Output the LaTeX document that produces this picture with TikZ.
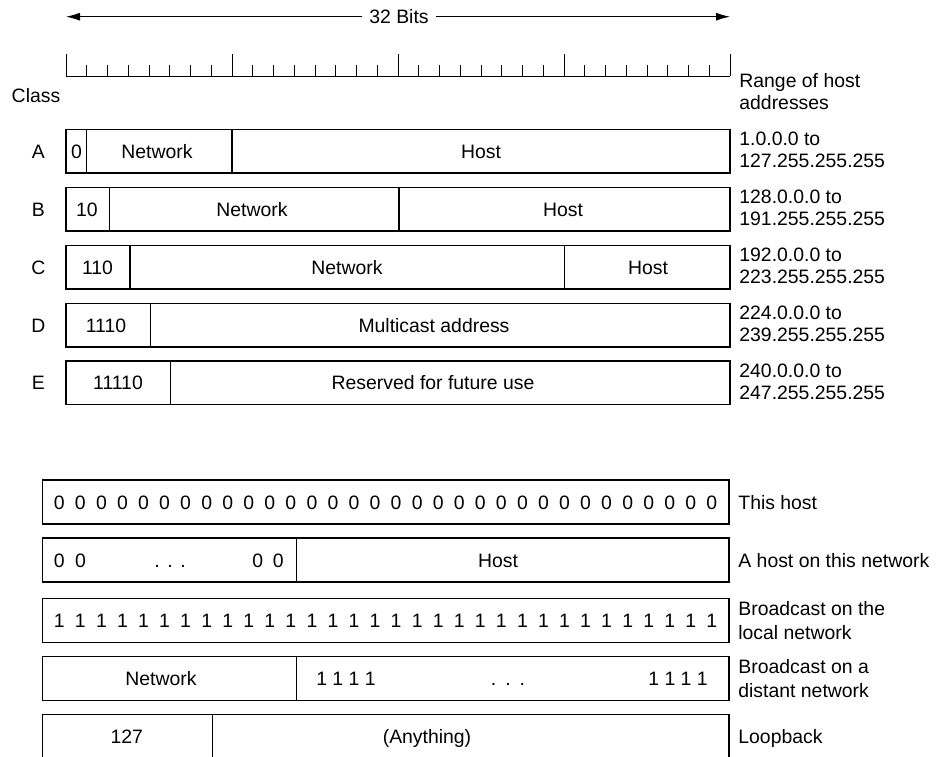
\documentclass[tikz,border=0pt]{standalone}
\usepackage{fontspec}
\setmainfont{Liberation Sans}
\usetikzlibrary{arrows.meta}

\tikzset{
  txt/.style={font=\fontsize{9.7}{11}\selectfont, inner sep=0pt, text height=7pt, text depth=0pt},
  hostrange/.style={font=\fontsize{9.7}{11}\selectfont, inner sep=0pt, anchor=north west, align=left},
  note/.style={font=\fontsize{9.7}{12}\selectfont, inner sep=0pt, anchor=north west, align=left},
  box/.style={line width=0.65pt},
  rule/.style={line width=0.5pt}
}

\begin{document}
\begin{tikzpicture}[x=0.5pt, y=-0.5pt]
  \useasboundingbox (0,0) rectangle (938,756);
  \clip (0,0) rectangle (938,756);
  % 32 bits arrow
  \coordinate (bitsL) at (66,16.7);
  \coordinate (bitsR) at (730,16.7);
  \node[txt, inner sep=3.3pt] (bits) at (399,16.7) {32 Bits};
  \draw[rule, -{Latex[length=7pt,width=4pt]}] (bits) -- (bitsL);
  \draw[rule, -{Latex[length=7pt,width=4pt]}] (bits) -- (bitsR);
  % bit ruler
  \draw[rule] (66,76) -- (730,76);
  \foreach \i in {0,...,32}{
    \pgfmathsetmacro{\tx}{66+20.75*\i}
    \pgfmathsetmacro{\ty}{mod(\i,8)==0 ? 54 : 65}
    \draw[rule] (\tx,76) -- (\tx,\ty);
  }
  \node[txt] (classhd) at (36,95.5) {Class};
  \node[hostrange] (rangehd) at (739,73.3) {Range of host\\addresses};
  % class A
  \draw[box] (66,129.5) rectangle (730,173);
  \draw[box] (86.7,129.5) -- (86.7,173);
  \draw[box] (232,129.5) -- (232,173);
  \node[txt] (clsA) at (38.3,151.25) {A};
  \node[txt] (preA) at (76.5,151.25) {0};
  \node[txt] (netA) at (157,151.25) {Network};
  \node[txt] (hostA) at (481,151.25) {Host};
  \node[hostrange] (rngA) at (739,131.5) {1.0.0.0 to\\127.255.255.255};
  % class B
  \draw[box] (66,187.5) rectangle (730,231);
  \draw[box] (109.3,187.5) -- (109.3,231);
  \draw[box] (399,187.5) -- (399,231);
  \node[txt] (clsB) at (38.3,209.25) {B};
  \node[txt] (preB) at (87,209.25) {10};
  \node[txt] (netB) at (252,209.25) {Network};
  \node[txt] (hostB) at (563,209.25) {Host};
  \node[hostrange] (rngB) at (739,190) {128.0.0.0 to\\191.255.255.255};
  % class C
  \draw[box] (66,245.5) rectangle (730,289);
  \draw[box] (130,245.5) -- (130,289);
  \draw[box] (564.3,245.5) -- (564.3,289);
  \node[txt] (clsC) at (38.3,267.25) {C};
  \node[txt] (preC) at (97.5,267.25) {110};
  \node[txt] (netC) at (347,267.25) {Network};
  \node[txt] (hostC) at (648,267.25) {Host};
  \node[hostrange] (rngC) at (739,248) {192.0.0.0 to\\223.255.255.255};
  % class D
  \draw[box] (66,303.5) rectangle (730,347);
  \draw[box] (150.3,303.5) -- (150.3,347);
  \node[txt] (clsD) at (38.3,325.25) {D};
  \node[txt] (preD) at (106,325.25) {1110};
  \node[txt] (mcastD) at (434,325.25) {Multicast address};
  \node[hostrange] (rngD) at (739,306) {224.0.0.0 to\\239.255.255.255};
  % class E
  \draw[box] (66,361) rectangle (730,404.5);
  \draw[box] (170.7,361) -- (170.7,404.5);
  \node[txt] (clsE) at (38.3,382.75) {E};
  \node[txt] (preE) at (118,382.75) {11110};
  \node[txt] (resE) at (433,382.75) {Reserved for future use};
  \node[hostrange] (rngE) at (739,363.5) {240.0.0.0 to\\247.255.255.255};

  % this host
  \draw[box] (42.3,480) rectangle (729,524);
  \foreach \i in {0,...,31}
    \node[txt] (zero\i) at ({59.3+21.05*\i},502) {0};
  \node[txt, anchor=west] (thishost) at (738,502) {This host};
  % a host on this network
  \draw[box] (42.3,538) rectangle (729,582);
  \draw[box] (296.3,538) -- (296.3,582);
  \node[txt] (nz0) at (59.3,560) {0};
  \node[txt] (nz1) at (80.4,560) {0};
  \node[txt] (ndots) at (170,560) {.\hspace{3.8pt}.\hspace{3.8pt}.};
  \node[txt] (nz2) at (257.7,560) {0};
  \node[txt] (nz3) at (278.3,560) {0};
  \node[txt] (nhost) at (498,560) {Host};
  \node[txt, anchor=west] (onnet) at (738,560) {A host on this network};
  % broadcast on the local network
  \draw[box] (42.3,598.3) rectangle (729,642.3);
  \foreach \i in {0,...,31}
    \node[txt] (one\i) at ({59.3+21.05*\i},620.3) {1};
  \node[note] (bclocal) at (738,600.7) {Broadcast on the\\local network};
  % broadcast on a distant network
  \draw[box] (42.3,656.7) rectangle (729,700.5);
  \draw[box] (296.3,656.7) -- (296.3,700.5);
  \node[txt] (dnet) at (161,678.6) {Network};
  \node[txt] (dones1) at (346,678.6) {1 1 1 1};
  \node[txt] (ddots) at (508,678.6) {.\hspace{4.5pt}.\hspace{4.5pt}.};
  \node[txt] (dones2) at (678,678.6) {1 1 1 1};
  \node[note] (bcdist) at (738,659) {Broadcast on a\\distant network};
  % loopback
  \draw[box] (42.3,714.3) rectangle (729,770);
  \draw[box] (212.3,714.3) -- (212.3,770);
  \node[txt] (lb127) at (126.7,736.5) {127};
  \node[txt] (lbany) at (427,736.5) {(Anything)};
  \node[txt, anchor=west] (loopback) at (738,736.5) {Loopback};
\end{tikzpicture}
\end{document}
